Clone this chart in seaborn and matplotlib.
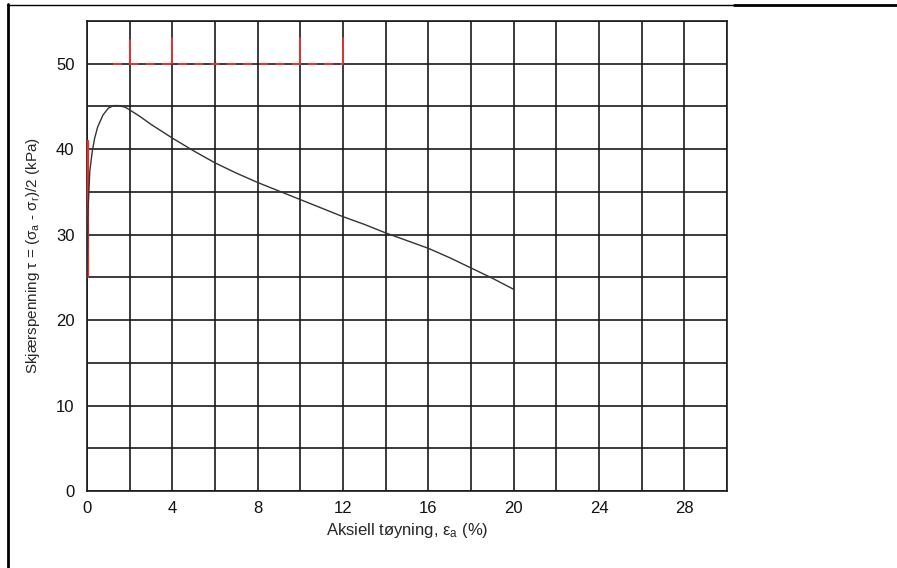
import numpy as np
import pandas as pd
import matplotlib
matplotlib.use("Agg")
import matplotlib.pyplot as plt
import seaborn as sns
from matplotlib.lines import Line2D
from matplotlib.ticker import MultipleLocator

# Shear stress vs. axial strain from a triaxial test
strain_pct = [0.0, 0.05, 0.13, 0.25, 0.36, 0.5, 0.75, 1.0, 1.25, 1.5, 1.8, 2.0, 2.5,
              3.0, 3.5, 4.0, 5.0, 6.0, 7.0, 8.0, 9.0, 10.0, 11.0, 12.0, 13.0, 14.0,
              15.0, 16.0, 17.0, 18.0, 19.0, 20.0]
shear_kpa = [25.0, 33.0, 37.4, 39.8, 41.3, 42.6, 44.0, 44.8, 45.1, 45.1, 44.9, 44.6, 43.8,
             42.9, 42.1, 41.3, 39.8, 38.4, 37.2, 36.1, 35.1, 34.1, 33.1, 32.1, 31.2, 30.2,
             29.3, 28.4, 27.3, 26.1, 24.9, 23.6]

# Red pen marks on the sheet
pen_vert_x = [0.05, 0.05]
pen_vert_y = [25.0, 41.0]
pen_line_x = [1.2, 12.0]
pen_line_y = [50.0, 50.0]
pen_tick_x = [2.0, 4.0, 10.0, 12.0]
pen_tick_top = [52.8, 53.0, 53.0, 53.0]

x_ticks = [0, 4, 8, 12, 16, 20, 24, 28]
y_ticks = [0, 10, 20, 30, 40, 50]

sns.set_style("white")
plt.rcParams["font.family"] = ["Liberation Sans", "DejaVu Sans"]
plt.rcParams["mathtext.fontset"] = "custom"
plt.rcParams["mathtext.rm"] = "Liberation Sans"
plt.rcParams["mathtext.it"] = "Liberation Sans"
plt.rcParams["mathtext.default"] = "regular"

df = pd.DataFrame({"strain": strain_pct, "shear": shear_kpa})

fig = plt.figure(figsize=(8.97, 5.68), dpi=100)
ax = fig.add_axes([87 / 897, 1 - 491 / 568, 640 / 897, 470 / 568])

ax.set_xlim(0, 30)
ax.set_ylim(0, 55)
ax.xaxis.set_major_locator(MultipleLocator(4))
ax.xaxis.set_minor_locator(MultipleLocator(2))
ax.yaxis.set_major_locator(MultipleLocator(10))
ax.yaxis.set_minor_locator(MultipleLocator(5))
ax.set_xticks(x_ticks)
ax.set_yticks(y_ticks)
ax.grid(True, which="both", color="#1a1a1a", linewidth=1.2)
ax.set_axisbelow(True)
ax.tick_params(which="both", length=0, labelsize=12, colors="#111111")
ax.tick_params(axis="x", pad=7)
ax.tick_params(axis="y", pad=9)
for s in ax.spines.values():
    s.set_color("#1a1a1a")
    s.set_linewidth(1.2)

# red pen marks
ax.plot(pen_line_x, pen_line_y, color="#ff3030", lw=1.3, ls=(0, (5, 4)), zorder=3)
for xv, yt in zip(pen_tick_x, pen_tick_top):
    ax.plot([xv, xv], [50.0, yt], color="#ff3030", lw=1.2, zorder=3)
ax.plot(pen_vert_x, pen_vert_y, color="#ff2020", lw=1.6, zorder=4)

sns.lineplot(data=df, x="strain", y="shear", ax=ax, color="#333333",
             linewidth=1.0, sort=False, zorder=5)

ax.set_xlabel(r"Aksiell tøyning, ε$_{a}$ (%)", fontsize=12, labelpad=4)
ax.set_ylabel(r"Skjærspenning τ = (σ$_{a}$ - σ$_{r}$)/2 (kPa)", fontsize=11, labelpad=10)

# page frame
fig.add_artist(Line2D([7.5 / 897, 7.5 / 897], [0, 1 - 4 / 568], color="black", lw=2.0,
                      transform=fig.transFigure))
fig.add_artist(Line2D([7 / 897, 735 / 897], [1 - 4.5 / 568, 1 - 4.5 / 568], color="black",
                      lw=1.0, transform=fig.transFigure))
fig.add_artist(Line2D([734 / 897, 1], [1 - 5 / 568, 1 - 5 / 568], color="black",
                      lw=2.0, transform=fig.transFigure))

fig.savefig("out.png", dpi=100)
